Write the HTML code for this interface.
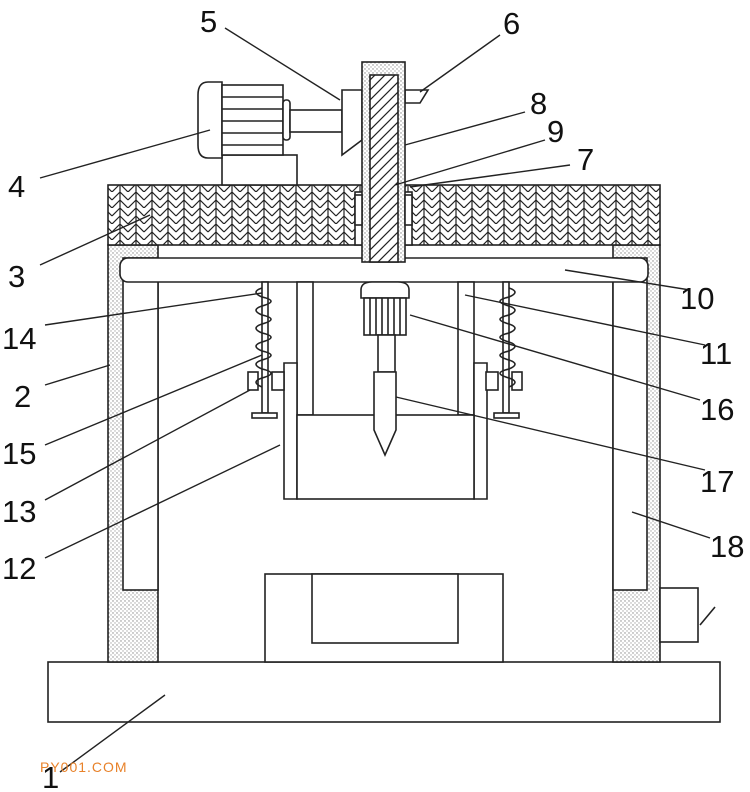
<!DOCTYPE html>
<html><head><meta charset="utf-8"><style>
html,body{margin:0;padding:0;background:#fff}
svg{display:block}
text{font-family:"Liberation Sans",sans-serif;font-size:31px;fill:#111}
</style></head><body>
<svg width="750" height="792" viewBox="0 0 750 792" xmlns="http://www.w3.org/2000/svg">
<defs>
<pattern id="dots" width="4" height="4" patternUnits="userSpaceOnUse">
<rect width="4" height="4" fill="#fff"/><circle cx="1" cy="1" r="0.7" fill="#888"/><circle cx="3" cy="3" r="0.7" fill="#aaa"/>
</pattern>
<pattern id="herr" width="16" height="16" patternUnits="userSpaceOnUse">
<rect width="16" height="16" fill="#fff"/>
<path d="M0 8 L8 0 M0 16 L8 8 M8 0 L16 8 M8 8 L16 16 M8 0 V16" stroke="#222" stroke-width="1.2" fill="none"/>
</pattern>
<pattern id="hatch" width="10" height="10" patternUnits="userSpaceOnUse">
<rect width="10" height="10" fill="#fff"/><path d="M0 10 L10 0 M-2 2 L2 -2 M8 12 L12 8" stroke="#222" stroke-width="1.2"/>
</pattern>
</defs>
<g stroke="#222" stroke-width="1.6" fill="#fff">
<rect x="48" y="662" width="672" height="60"/>
<rect x="108" y="245" width="50" height="417" fill="url(#dots)"/>
<rect x="123" y="258" width="35" height="332"/>
<rect x="613" y="245" width="47" height="417" fill="url(#dots)"/>
<rect x="613" y="258" width="34" height="332"/>
<rect x="108" y="185" width="552" height="60" fill="url(#herr)"/>
<rect x="355" y="192" width="57" height="53"/>
<rect x="120" y="258" width="528" height="24" rx="8"/>
<rect x="222" y="155" width="75" height="30"/>
<path d="M222 82 H208 Q198 82 198 95 V145 Q198 158 208 158 H222 Z"/>
<rect x="222" y="85" width="61" height="70"/>
<path d="M222 97H283M222 109H283M222 121H283M222 133H283M222 145H283" fill="none"/>
<rect x="283" y="100" width="7" height="40" rx="3"/>
<rect x="290" y="110" width="52" height="22"/>
<path d="M342 90 L362 90 L362 140 L342 155 Z"/>
<path d="M405 90 L428 90 L420 103 L405 103 Z"/>
<rect x="362" y="62" width="43" height="200" fill="url(#dots)"/>
<rect x="370" y="75" width="28" height="187" fill="url(#hatch)"/>
<rect x="355" y="195" width="7" height="30"/>
<rect x="405" y="195" width="7" height="30"/>
<rect x="297" y="282" width="16" height="133"/>
<rect x="458" y="282" width="16" height="133"/>
<path d="M284 363 H297 V499 H284 Z"/>
<path d="M474 363 H487 V499 H474 Z"/>
<rect x="297" y="415" width="177" height="84"/>
<rect x="262" y="282" width="6" height="131"/>
<rect x="252" y="413" width="25" height="5"/>
<rect x="248" y="372" width="10" height="18"/><rect x="272" y="372" width="12" height="18"/>
<path d="M262 288 q-12 4 0 9 q18 4 0 9 q-12 4 0 9 q18 4 0 9 q-12 4 0 9 q18 4 0 9 q-12 4 0 9 q18 4 0 9 q-12 4 0 9 q18 4 0 9 q-12 4 0 9" fill="none"/>
<rect x="503" y="282" width="6" height="131"/>
<rect x="494" y="413" width="25" height="5"/>
<rect x="486" y="372" width="12" height="18"/><rect x="512" y="372" width="10" height="18"/>
<path d="M509 288 q12 4 0 9 q-18 4 0 9 q12 4 0 9 q-18 4 0 9 q12 4 0 9 q-18 4 0 9 q12 4 0 9 q-18 4 0 9 q12 4 0 9 q-18 4 0 9 q12 4 0 9" fill="none"/>
<path d="M361 298 V290 Q361 282 372 282 H398 Q409 282 409 290 V298 Z"/>
<rect x="364" y="298" width="42" height="37"/>
<path d="M370 298V335M376 298V335M382 298V335M388 298V335M394 298V335M400 298V335" fill="none"/>
<rect x="378" y="335" width="17" height="37"/>
<path d="M374 372 H396 V430 L385 455 L374 430 Z"/>
<rect x="265" y="574" width="238" height="88"/>
<rect x="312" y="574" width="146" height="69"/>
<rect x="660" y="588" width="38" height="54"/>
<path d="M700 625 L715 607" fill="none"/>
<g fill="none" stroke-width="1.4">
<path d="M225 28 L340 100"/><path d="M500 35 L420 92"/><path d="M525 112 L405 145"/>
<path d="M545 140 L395 185"/><path d="M570 165 L410 187"/><path d="M40 178 L210 130"/>
<path d="M40 265 L150 215"/><path d="M690 290 L565 270"/><path d="M45 325 L262 293"/>
<path d="M705 345 L465 295"/><path d="M45 385 L110 365"/><path d="M700 400 L410 315"/>
<path d="M45 445 L262 355"/><path d="M705 470 L396 397"/><path d="M45 500 L250 390"/>
<path d="M710 538 L632 512"/><path d="M45 558 L280 445"/><path d="M60 772 L165 695"/>
</g>
</g>
<g>
<text x="200" y="32">5</text><text x="503" y="34">6</text><text x="530" y="114">8</text>
<text x="547" y="142">9</text><text x="577" y="170">7</text><text x="8" y="197">4</text>
<text x="8" y="287">3</text><text x="680" y="309">10</text><text x="2" y="349">14</text>
<text x="700" y="364">11</text><text x="14" y="407">2</text><text x="700" y="420">16</text>
<text x="2" y="464">15</text><text x="700" y="492">17</text><text x="2" y="522">13</text>
<text x="710" y="557">18</text><text x="2" y="579">12</text><text x="42" y="788">1</text>
<text x="40" y="772" style="font-size:14px;fill:#e8822a;letter-spacing:1px">PY001.COM</text>
</g>
</svg>
</body></html>
